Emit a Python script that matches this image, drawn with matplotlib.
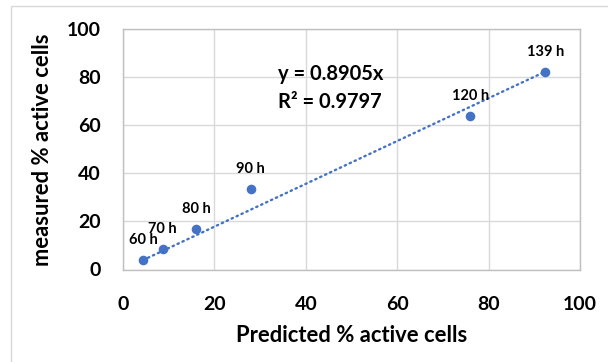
import numpy as np
import matplotlib
matplotlib.use("Agg")
import matplotlib.pyplot as plt
from matplotlib.patches import Rectangle

plt.rcParams['font.family'] = ['Lato', 'DejaVu Sans']
plt.rcParams['font.weight'] = 'bold'

# Predicted vs. measured percentage of active cells at each sampling time
labels = ["60 h", "70 h", "80 h", "90 h", "120 h", "139 h"]
predicted = [4.4, 8.7, 16.0, 27.9, 76.0, 92.4]
measured = [3.9, 8.6, 16.9, 33.3, 63.8, 82.2]

# Linear trendline forced through the origin
slope = 0.8905
r_squared = 0.9797

xticks = [0, 20, 40, 60, 80, 100]
yticks = [0, 20, 40, 60, 80, 100]

blue = "#4472C4"
grid_grey = "#D9D9D9"

fig = plt.figure(figsize=(6.08, 3.62), dpi=100)
fig.patch.set_facecolor("white")

# Outer chart-area border
fig.patches.append(Rectangle((11 / 608, -0.05), 1.1, (362 - 6) / 362 + 0.05,
                             transform=fig.transFigure, fill=False,
                             edgecolor="#D9D9D9", linewidth=1.0))

ax = fig.add_axes([123 / 608, 92.5 / 362, (580 - 123) / 608, (269.5 - 29) / 362])
ax.set_xlim(0, 100)
ax.set_ylim(0, 100)
ax.set_xticks(xticks)
ax.set_yticks(yticks)
ax.grid(True, color=grid_grey, linewidth=1.0)
ax.set_axisbelow(True)
for s in ax.spines.values():
    s.set_color("#BFBFBF")
    s.set_linewidth(1.0)
ax.tick_params(length=0, labelsize=14)
ax.tick_params(axis='y', pad=16)
ax.tick_params(axis='x', pad=19)
for t in ax.get_xticklabels() + ax.get_yticklabels():
    t.set_fontweight('bold')

x_fit = np.array([min(predicted), max(predicted)])
ax.plot(x_fit, slope * x_fit, color=blue, linewidth=1.7,
        linestyle=(0, (0.6, 1.7)), dash_capstyle='round', zorder=2)

ax.scatter(predicted, measured, s=48, color=blue, zorder=3, linewidths=0)

for lab, x, y in zip(labels, predicted, measured):
    ax.annotate(lab, (x, y), xytext=(0, 14.5), textcoords='offset points',
                ha='center', va='center', fontsize=10.5, fontweight='bold')

ax.text(278 / 608, 1 - 74 / 362, f"y = {slope}x", transform=fig.transFigure,
        ha='left', va='center', fontsize=14.5, fontweight='bold')
ax.text(278 / 608, 1 - 102 / 362, f"R\u00b2 = {r_squared}", transform=fig.transFigure,
        ha='left', va='center', fontsize=14.5, fontweight='bold')

fig.text(351.5 / 608, 1 - 336 / 362, "Predicted % active cells",
         ha='center', va='center', fontsize=15.8, fontweight='bold')
fig.text(43 / 608, 1 - 149.5 / 362, "measured % active cells", rotation=90,
         ha='center', va='center', fontsize=15.8, fontweight='bold')

fig.savefig("out.png", dpi=100)
